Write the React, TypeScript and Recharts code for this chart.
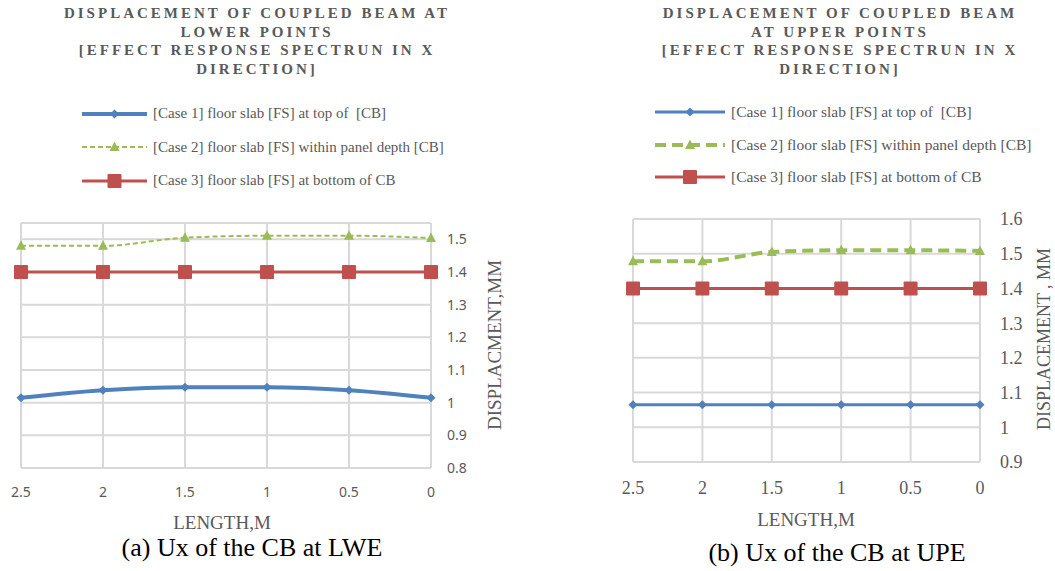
import { CartesianGrid, Line, LineChart, XAxis, YAxis } from "recharts";

// Length along the beam (m), read right to left as in the source figure
const lengths = ["2.5", "2", "1.5", "1", "0.5", "0"];

// (a) lower points
const lowerCase1 = [1.015, 1.038, 1.047, 1.047, 1.038, 1.015];
const lowerCase2 = [1.48, 1.48, 1.505, 1.511, 1.511, 1.504];
const lowerCase3 = [1.4, 1.4, 1.4, 1.4, 1.4, 1.4];
const lowerTicks = [0.8, 0.9, 1, 1.1, 1.2, 1.3, 1.4, 1.5];

// (b) upper points
const upperCase1 = [1.065, 1.065, 1.065, 1.065, 1.065, 1.065];
const upperCase2 = [1.478, 1.478, 1.505, 1.51, 1.51, 1.508];
const upperCase3 = [1.4, 1.4, 1.4, 1.4, 1.4, 1.4];
const upperTicks = [0.9, 1, 1.1, 1.2, 1.3, 1.4, 1.5, 1.6];

const caseNames = [
  "[Case 1] floor slab [FS] at top of  [CB]",
  "[Case 2] floor slab [FS] within panel depth [CB]",
  "[Case 3] floor slab [FS] at bottom of CB",
];

const BLUE = "#4f81bd";
const GREEN = "#9bbb59";
const RED = "#c0504d";
const GRID = "#d9d9d9";
const GREY = "#595959";
const SERIF = "'Liberation Serif', 'Times New Roman', serif";
const SANS = "'Noto Sans', 'Open Sans', sans-serif";

function buildRows(c1: number[], c2: number[], c3: number[]) {
  return lengths.map((length, i) => ({
    length,
    case1: c1[i],
    case2: c2[i],
    case3: c3[i],
  }));
}

type Marker = "diamond" | "triangle" | "square";

function markerShape(kind: Marker, cx: number, cy: number, color: string, key?: string | number) {
  if (kind === "diamond") {
    return (
      <polygon
        key={key}
        points={`${cx},${cy - 4.5} ${cx + 4.5},${cy} ${cx},${cy + 4.5} ${cx - 4.5},${cy}`}
        fill={color}
      />
    );
  }
  if (kind === "triangle") {
    return (
      <polygon
        key={key}
        points={`${cx},${cy - 5.5} ${cx + 5},${cy + 4} ${cx - 5},${cy + 4}`}
        fill={color}
      />
    );
  }
  return <rect key={key} x={cx - 7} y={cy - 7} width={14} height={14} rx={1} fill={color} />;
}

function dotOf(kind: Marker, color: string) {
  return (p: any) => markerShape(kind, p.cx, p.cy, color, `${kind}-${p.index}`);
}

interface SeriesStyle {
  width: number;
  dash?: string;
}

interface PanelProps {
  rows: ReturnType<typeof buildRows>;
  width: number;
  height: number;
  margin: { top: number; right: number; left: number; bottom: number };
  domain: [number, number];
  ticks: number[];
  tickFont: string;
  tickSize: number;
  yMargin: number;
  xMargin: number;
  styles: SeriesStyle[];
}

function Panel({ rows, width, height, margin, domain, ticks, tickFont, tickSize, yMargin, xMargin, styles }: PanelProps) {
  const tick = { fill: GREY, fontSize: tickSize, fontFamily: tickFont };
  return (
    <LineChart width={width} height={height} data={rows} margin={margin}>
      <CartesianGrid stroke={GRID} strokeWidth={2} />
      <XAxis
        dataKey="length"
        axisLine={false}
        tickLine={false}
        tickSize={0}
        tickMargin={xMargin}
        height={30}
        tick={tick}
        interval={0}
      />
      <YAxis
        orientation="right"
        type="number"
        domain={domain}
        ticks={ticks}
        axisLine={false}
        tickLine={false}
        tickSize={0}
        tickMargin={yMargin}
        width={60}
        tick={{ ...tick, textAnchor: "start" }}
        tickFormatter={(v: number) => String(v)}
      />
      <Line
        dataKey="case3"
        stroke={RED}
        strokeWidth={styles[2].width}
        dot={dotOf("square", RED)}
        activeDot={false}
        isAnimationActive={false}
      />
      <Line
        dataKey="case2"
        type="monotone"
        stroke={GREEN}
        strokeWidth={styles[1].width}
        strokeDasharray={styles[1].dash}
        dot={dotOf("triangle", GREEN)}
        activeDot={false}
        isAnimationActive={false}
      />
      <Line
        dataKey="case1"
        type="monotone"
        stroke={BLUE}
        strokeWidth={styles[0].width}
        dot={dotOf("diamond", BLUE)}
        activeDot={false}
        isAnimationActive={false}
      />
    </LineChart>
  );
}

function Text({ x, y, size, color = GREY, rotate = false, font = SERIF, children }: any) {
  return (
    <div
      style={{
        position: "absolute",
        left: x,
        top: y,
        transform: `translate(-50%, -50%)${rotate ? " rotate(-90deg)" : ""}`,
        whiteSpace: "nowrap",
        lineHeight: 1,
        fontFamily: font,
        fontSize: size,
        color,
      }}
    >
      {children}
    </div>
  );
}

function Title({ cx, lines }: { cx: number; lines: string[] }) {
  return (
    <div
      style={{
        position: "absolute",
        left: cx - 250,
        top: 4,
        width: 500,
        textAlign: "center",
        fontFamily: SERIF,
        fontWeight: "bold",
        fontSize: 15,
        letterSpacing: 3,
        lineHeight: "18.5px",
        color: GREY,
      }}
    >
      {lines.map((l) => (
        <div key={l}>{l}</div>
      ))}
    </div>
  );
}

function LegendBlock({ left, top, gap, sample, fontSize, styles }: any) {
  const kinds: Marker[] = ["diamond", "triangle", "square"];
  const colors = [BLUE, GREEN, RED];
  return (
    <div style={{ position: "absolute", left, top, fontFamily: SERIF, fontSize, color: GREY }}>
      {caseNames.map((name, i) => (
        <div key={name} style={{ display: "flex", alignItems: "center", height: gap }}>
          <svg width={sample} height={18} style={{ marginRight: 6 }}>
            <line
              x1={0}
              x2={sample}
              y1={9}
              y2={9}
              stroke={colors[i]}
              strokeWidth={styles[i].width}
              strokeDasharray={styles[i].dash}
            />
            {markerShape(kinds[i], sample / 2, 9, colors[i])}
          </svg>
          <span style={{ whiteSpace: "pre" }}>{name}</span>
        </div>
      ))}
    </div>
  );
}

const lowerStyles: SeriesStyle[] = [{ width: 4 }, { width: 2, dash: "5 3" }, { width: 3 }];
const upperStyles: SeriesStyle[] = [{ width: 3 }, { width: 4, dash: "11 6" }, { width: 3 }];

export default function App() {
  const lowerRows = buildRows(lowerCase1, lowerCase2, lowerCase3);
  const upperRows = buildRows(upperCase1, upperCase2, upperCase3);

  return (
    <div
      style={{
        position: "absolute",
        left: 0,
        top: 0,
        width: 1055,
        height: 571,
        background: "#fff",
        overflow: "hidden",
      }}
    >
      <div style={{ position: "absolute", left: 0, top: 0 }}>
        <Panel
          rows={lowerRows}
          width={530}
          height={571}
          margin={{ top: 223, right: 39, left: 21, bottom: 73 }}
          domain={[0.8, 1.55]}
          ticks={lowerTicks}
          tickFont={SANS}
          tickSize={14}
          yMargin={16}
          xMargin={19}
          styles={lowerStyles}
        />
      </div>
      <div style={{ position: "absolute", left: 530, top: 0 }}>
        <Panel
          rows={upperRows}
          width={525}
          height={571}
          margin={{ top: 219, right: 15, left: 103, bottom: 79 }}
          domain={[0.9, 1.6]}
          ticks={upperTicks}
          tickFont={SERIF}
          tickSize={18}
          yMargin={20}
          xMargin={19}
          styles={upperStyles}
        />
      </div>

      <Title
        cx={257}
        lines={[
          "DISPLACEMENT OF COUPLED BEAM AT",
          "LOWER POINTS",
          "[EFFECT RESPONSE SPECTRUN IN X",
          "DIRECTION]",
        ]}
      />
      <Title
        cx={840}
        lines={[
          "DISPLACEMENT OF COUPLED BEAM",
          "AT UPPER POINTS",
          "[EFFECT RESPONSE SPECTRUN IN X",
          "DIRECTION]",
        ]}
      />

      <LegendBlock left={82} top={97} gap={33.5} sample={65} fontSize={15} styles={lowerStyles} />
      <LegendBlock left={655} top={96} gap={32.5} sample={70} fontSize={15.5} styles={upperStyles} />

      <Text x={222} y={522} size={19}>LENGTH,M</Text>
      <Text x={494} y={345} size={19} rotate>DISPLACMENT,MM</Text>
      <Text x={806} y={519} size={19}>LENGTH,M</Text>
      <Text x={1044} y={339} size={18} rotate>DISPLACEMENT , MM</Text>

      <Text x={252} y={548} size={26} color="#000">(a) Ux of the CB at LWE</Text>
      <Text x={837} y={553} size={26} color="#000">(b) Ux of the CB at UPE</Text>
    </div>
  );
}
